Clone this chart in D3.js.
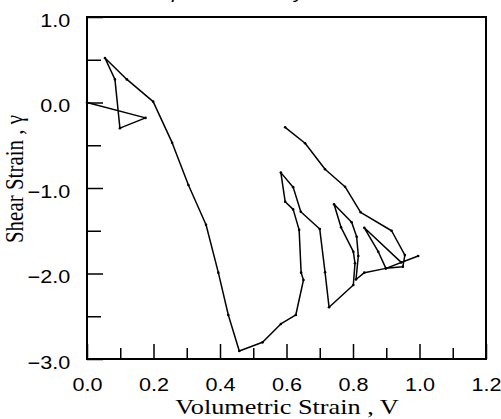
<!DOCTYPE html>
<html>
<head>
<meta charset="utf-8">
<script src="https://cdn.jsdelivr.net/npm/d3@7"></script>
<style>
  body { margin: 0; background: #fff; }
  svg { display: block; }
</style>
</head>
<body>
<svg id="chart" width="501" height="419"></svg>
<script>
// strain path (in drawing order)
var volStrain = [0.000, 0.176, 0.099, 0.084, 0.054, 0.120, 0.199, 0.256, 0.305, 0.358,
                 0.395, 0.425, 0.458, 0.528, 0.583, 0.628, 0.651, 0.644, 0.638, 0.620,
                 0.596, 0.583, 0.620, 0.643, 0.700, 0.716, 0.728, 0.801, 0.806, 0.801,
                 0.764, 0.743, 0.796, 0.811, 0.816, 0.809, 0.834, 0.899, 0.996, 0.945,
                 0.834, 0.876, 0.899, 0.950, 0.956, 0.916, 0.823, 0.776, 0.716, 0.656,
                 0.596];
var shearStrain = [0.00, -0.18, -0.30, 0.27, 0.52, 0.27, 0.01, -0.47, -0.965, -1.43,
                   -1.99, -2.485, -2.906, -2.805, -2.59, -2.485, -2.076, -1.99, -1.49, -1.25,
                   -1.16, -0.82, -0.99, -1.277, -1.48, -1.986, -2.395, -2.135, -1.88, -1.745,
                   -1.46, -1.19, -1.40, -1.57, -1.795, -2.07, -1.99, -1.94, -1.795, -1.87,
                   -1.465, -1.745, -1.94, -1.92, -1.784, -1.50, -1.284, -0.985, -0.78, -0.477,
                   -0.29];

var xMajorTicks = [0.0, 0.2, 0.4, 0.6, 0.8, 1.0, 1.2];
var xMinorTicks = [0.1, 0.3, 0.5, 0.7, 0.9, 1.1];
var yMajorTicks = [1.0, 0.0, -1.0, -2.0, -3.0];
var yMinorTicks = [0.5, -0.5, -1.5, -2.5];

var titleText = "Strain path for Sandy Silt";
var xTitle = "Volumetric Strain , V";
var yTitle = "Shear Strain , \u03b3";

var svg = d3.select("#chart");
var STRETCH = 1.2;   // the reference text is drawn a bit wide

var x = d3.scaleLinear().domain([0, 1.2]).range([87, 486]);
var y = d3.scaleLinear().domain([-3, 1]).range([359, 17]);

// title, cut off above the picture (only descenders show)
svg.append("text")
    .attr("transform", "translate(113,-1.5) scale(" + STRETCH + ",1)")
    .style("font-family", "'Liberation Sans', Arial, sans-serif")
    .style("font-style", "italic")
    .style("font-size", "17px")
    .text(titleText);

// x axis: minor ticks, then major ticks with labels
svg.append("g")
    .attr("transform", "translate(0,359)")
    .call(d3.axisBottom(x).tickValues(xMinorTicks).tickSizeInner(-11).tickSizeOuter(0).tickFormat(""))
    .call(function (g) { g.select(".domain").remove(); });

var xAxis = svg.append("g")
    .attr("transform", "translate(0,359)")
    .call(d3.axisBottom(x).tickValues(xMajorTicks).tickSizeInner(-15).tickSizeOuter(0)
        .tickPadding(19).tickFormat(d3.format(".1f")));
xAxis.select(".domain").remove();

// y axis
svg.append("g")
    .attr("transform", "translate(87,0)")
    .call(d3.axisLeft(y).tickValues(yMinorTicks).tickSizeInner(-14).tickSizeOuter(0).tickFormat(""))
    .call(function (g) { g.select(".domain").remove(); });

var yAxis = svg.append("g")
    .attr("transform", "translate(87,0)")
    .call(d3.axisLeft(y).tickValues(yMajorTicks).tickSizeInner(-16).tickSizeOuter(0)
        .tickPadding(14).tickFormat(d3.format(".1f")));
yAxis.select(".domain").remove();

svg.selectAll(".tick line").attr("stroke", "#000").attr("stroke-width", 1.5);
svg.selectAll(".tick text")
    .attr("fill", "#000")
    .style("font-family", "'Liberation Sans', Arial, sans-serif")
    .style("font-size", "18px")
    .attr("transform", "scale(" + STRETCH + ",1)");
yAxis.selectAll(".tick text").attr("dy", "0.52em");

// frame
svg.append("rect")
    .attr("x", x(0)).attr("y", y(1))
    .attr("width", x(1.2) - x(0)).attr("height", y(-3) - y(1))
    .attr("fill", "none").attr("stroke", "#000").attr("stroke-width", 2);

// axis titles
svg.append("text")
    .attr("transform", "translate(287,414) scale(1.25,1)")
    .attr("text-anchor", "middle")
    .style("font-family", "'Liberation Serif', 'Times New Roman', serif")
    .style("font-size", "21px")
    .text(xTitle);

svg.append("text")
    .attr("transform", "translate(23,179) scale(1.15,1) rotate(-90)")
    .attr("text-anchor", "middle")
    .style("font-family", "'Liberation Serif', 'Times New Roman', serif")
    .style("font-size", "21px")
    .text(yTitle);

// the path
var pts = volStrain.map(function (v, i) { return [v, shearStrain[i]]; });

var line = d3.line()
    .x(function (d) { return x(d[0]); })
    .y(function (d) { return y(d[1]); });

svg.append("path")
    .datum(pts)
    .attr("d", line)
    .attr("fill", "none")
    .attr("stroke", "#000")
    .attr("stroke-width", 1.5)
    .attr("stroke-linejoin", "round");

svg.selectAll(".pt")
    .data(pts)
    .enter()
    .append("circle")
    .attr("class", "pt")
    .attr("cx", function (d) { return x(d[0]); })
    .attr("cy", function (d) { return y(d[1]); })
    .attr("r", 1.3)
    .attr("fill", "#000");
</script>
</body>
</html>
